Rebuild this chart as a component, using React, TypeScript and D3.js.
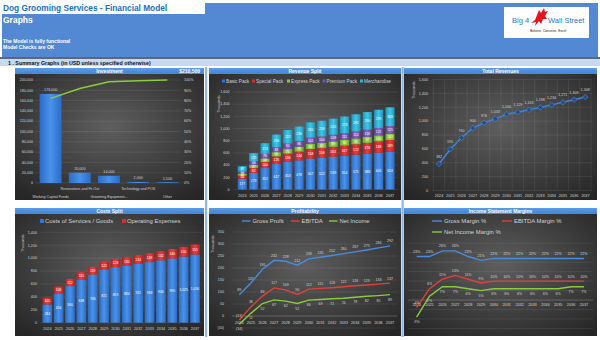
import React from 'react';
import * as d3 from 'd3';

// ---------------- DATA ----------------
const years = ['2024', '2025', '2026', '2027', '2028', '2029', '2030', '2031', '2032', '2033', '2034', '2035', '2036', '2037'];

const investmentCategories = ['Working Capital Funds', 'Renovations and Fit Out', 'Grooming Equipment...', 'Technology and POS', 'Other'];
const investmentValues = [173000, 20000, 14000, 2000, 1500];
const investmentTotalLabel = '$210,500';

const revenueSeries = ['Basic Pack', 'Special Pack', 'Express Pack', 'Premium Pack', 'Merchandise'];
const basicPack = [177, 273, 352, 417, 453, 478, 507, 522, 538, 554, 571, 588, 606, 624];
const specialPack = [50, 82, 100, 126, 136, 144, 158, 158, 163, 167, 172, 178, 183, 189];
const expressPack = [30, 47, 58, 69, 75, 79, 84, 87, 89, 92, 95, 97, 100, 103];
const premiumPack = [38, 58, 76, 83, 90, 96, 102, 104, 108, 111, 114, 118, 121, 125];
const merchandise = [87, 135, 174, 206, 222, 236, 250, 258, 265, 273, 282, 290, 299, 308];

const totalRevenues = [382, 595, 760, 900, 976, 1033, 1100, 1129, 1163, 1198, 1234, 1271, 1309, 1348];

const costSeries = ['Costs of Services / Goods', 'Operating Expenses'];
const costsOfServices = [284, 454, 566, 668, 746, 821, 859, 884, 911, 938, 966, 995, 1025, 1056];
const operatingExpenses = [105, 106, 112, 115, 119, 122, 126, 130, 134, 138, 142, 146, 150, 155];

const profitSeries = ['Gross Profit', 'EBITDA', 'Net Income'];
const grossProfit = [89, 137, 195, 232, 228, 212, 238, 245, 252, 260, 267, 275, 284, 292];
const ebitda = [-17, 38, 83, 117, 109, 90, 112, 115, 118, 122, 126, 129, 133, 137];
const netIncome = [-34, 11, 52, 67, 62, 52, 66, 69, 72, 74, 78, 82, 85, 89];

const marginSeries = ['Gross Margin %', 'EBITDA Margin %', 'Net Income Margin %'];
const grossMargin = [23, 23, 26, 26, 23, 21, 22, 22, 22, 22, 22, 22, 22, 22];
const ebitdaMargin = [-4, 6, 11, 13, 11, 9, 10, 10, 10, 10, 10, 10, 10, 10];
const netIncomeMargin = [-9, 2, 7, 7, 6, 5, 6, 6, 6, 6, 6, 6, 7, 7];

// ---------------- STYLE ----------------
const F = "'Liberation Sans', Arial, Helvetica, sans-serif";
const AX = '#d2d2d2';
const GRID = 'rgba(255,255,255,0.14)';
const BLUE = '#2f76d2';
const RED = '#d92a2c';
const GREEN = '#8cc63f';
const PURPLE = '#7952b3';
const TEAL = '#2cb3d8';
const LINE_BLUE = '#4a8be0';
const LINE_RED = '#e0413a';
const LINE_GREEN = '#8ccb3c';
const revColors = ['blue', 'red', 'green', 'purple', 'teal'];
const revFill = [BLUE, RED, GREEN, PURPLE, TEAL];

const fmtComma = d3.format(',');
const fmtParen = (v: number) => (v < 0 ? `(${fmtComma(-v)})` : fmtComma(v));

function Panel({ x, y, w, h, title, right }: any) {
  return (
    <g>
      <rect x={x} y={y + 5.5} width={w} height={h - 5.5} fill="url(#bgGrad)" />
      <rect x={x} y={y} width={w} height={5.8} fill="url(#titleGrad)" />
      <text x={x + w / 2} y={y + 4.5} textAnchor="middle" fontSize={5} fontWeight="bold" fill="#fff">{title}</text>
      {right && (
        <text x={x + w - 4} y={y + 4.5} textAnchor="end" fontSize={5} fontWeight="bold" fill="#fff">{right}</text>
      )}
    </g>
  );
}

function HGrid({ ticks, y, x0, x1 }: any) {
  return (
    <g>
      {ticks.map((t: number) => (
        <line key={t} x1={x0} x2={x1} y1={y(t)} y2={y(t)} stroke={GRID} strokeWidth={0.5} />
      ))}
    </g>
  );
}

function YLabels({ ticks, y, x, fmt, anchor = 'end', size = 4 }: any) {
  return (
    <g>
      {ticks.map((t: number) => (
        <text key={t} x={x} y={y(t)} dy="0.35em" textAnchor={anchor} fontSize={size} fill={AX}>{fmt(t)}</text>
      ))}
    </g>
  );
}

function YearLabels({ xc, y }: any) {
  return (
    <g>
      {years.map((yr) => (
        <text key={yr} x={xc(yr)} y={y} dy="0.35em" textAnchor="middle" fontSize={3.8} fill={AX}>{yr}</text>
      ))}
    </g>
  );
}

function Thousands({ x, y }: any) {
  return (
    <text transform={`translate(${x},${y}) rotate(-90)`} textAnchor="middle" fontSize={3.5} fill={AX} dy="0.35em">Thousands</text>
  );
}

// ---------- Investment ----------
function Investment() {
  const x = d3.scaleBand<string>().domain(investmentCategories).range([36, 182]).paddingInner(0.25).paddingOuter(0.125);
  const y = d3.scaleLinear().domain([0, 200000]).range([183, 80]);
  const yp = d3.scaleLinear().domain([0, 1]).range([183, 80]);
  const total = d3.sum(investmentValues);
  const cum = d3.cumsum(investmentValues).map((v) => v / total);
  const line = d3.line<number>().x((_, i) => x(investmentCategories[i])! + x.bandwidth() / 2).y((d) => yp(d));
  return (
    <g>
      <Panel x={15} y={68} w={189} h={132} title="Investment" right={investmentTotalLabel} />
      <HGrid ticks={y.ticks(10)} y={y} x0={35} x1={181} />
      <YLabels ticks={y.ticks(10)} y={y} x={33} fmt={fmtComma} size={3.7} />
      <YLabels ticks={yp.ticks(10)} y={yp} x={184} fmt={d3.format('.0%')} anchor="start" size={3.7} />
      {investmentValues.map((v, i) => (
        <g key={i}>
          <rect x={x(investmentCategories[i])} y={y(v)} width={x.bandwidth()} height={y(0) - y(v)} fill="url(#g_blue)" />
          <text x={x(investmentCategories[i])! + x.bandwidth() / 2} y={y(v) - 2.5} textAnchor="middle" fontSize={3.7} fill={AX}>{fmtComma(v)}</text>
        </g>
      ))}
      <path d={line(cum)!} fill="none" stroke={LINE_GREEN} strokeWidth={1.5} />
      {investmentCategories.map((c, i) => (
        <text key={c} x={x(c)! + x.bandwidth() / 2} y={i % 2 === 0 ? 196.5 : 189} dy="0.35em" textAnchor="middle" fontSize={3.6} fill={AX}>{c}</text>
      ))}
    </g>
  );
}

// ---------- Revenue Split ----------
function RevenueSplit() {
  const x = d3.scaleBand<string>().domain(years).range([236.6, 395.7]).paddingInner(0.2).paddingOuter(0.1);
  const y = d3.scaleLinear().domain([0, 1600]).range([189.5, 92]);
  const rows = years.map((yr, i) => ({
    year: yr,
    [revenueSeries[0]]: basicPack[i],
    [revenueSeries[1]]: specialPack[i],
    [revenueSeries[2]]: expressPack[i],
    [revenueSeries[3]]: premiumPack[i],
    [revenueSeries[4]]: merchandise[i],
  }));
  const stacked = d3.stack<any>().keys(revenueSeries)(rows);
  const legendX = [222, 252, 287, 322.5, 360];
  return (
    <g>
      <Panel x={209} y={68} w={192} h={132} title="Revenue Split" />
      {revenueSeries.map((s, i) => (
        <g key={s}>
          <rect x={legendX[i]} y={79.5} width={3} height={3} fill={revFill[i]} />
          <text x={legendX[i] + 4} y={81} dy="0.35em" fontSize={4.7} fill={AX}>{s}</text>
        </g>
      ))}
      <HGrid ticks={y.ticks(8)} y={y} x0={233} x1={398} />
      <YLabels ticks={y.ticks(8)} y={y} x={229.5} fmt={fmtComma} size={3.7} />
      <Thousands x={218.5} y={104} />
      {stacked.map((layer, li) => (
        <g key={layer.key}>
          {layer.map((d: any) => (
            <g key={d.data.year}>
              <rect x={x(d.data.year)} y={y(d[1])} width={x.bandwidth()} height={y(d[0]) - y(d[1])} fill={`url(#g_${revColors[li]})`} />
              <text x={x(d.data.year)! + x.bandwidth() / 2} y={(y(d[0]) + y(d[1])) / 2} dy="0.35em" textAnchor="middle" fontSize={3.4} fill="#fff">{d[1] - d[0]}</text>
            </g>
          ))}
        </g>
      ))}
      <YearLabels xc={(yr: string) => x(yr)! + x.bandwidth() / 2} y={196} />
    </g>
  );
}

// ---------- Total Revenues ----------
function TotalRevenues() {
  const x = d3.scaleBand<string>().domain(years).range([433.4, 591]);
  const xc = (yr: string) => x(yr)! + x.bandwidth() / 2;
  const y = d3.scaleLinear().domain([0, 1600]).range([190.5, 79.5]);
  const line = d3.line<number>().x((_, i) => xc(years[i])).y((d) => y(d));
  const sym = d3.symbol().type(d3.symbolDiamond2).size(20);
  return (
    <g>
      <Panel x={404} y={68} w={193} h={132} title="Total Revenues" />
      <HGrid ticks={y.ticks(8)} y={y} x0={432} x1={592} />
      {years.map((yr) => (
        <line key={yr} x1={x(yr)} x2={x(yr)} y1={y(1600)} y2={y(0)} stroke={GRID} strokeWidth={0.5} />
      ))}
      <line x1={x(years[13])! + x.bandwidth()} x2={x(years[13])! + x.bandwidth()} y1={y(1600)} y2={y(0)} stroke={GRID} strokeWidth={0.5} />
      <YLabels ticks={y.ticks(8)} y={y} x={428} fmt={fmtComma} size={3.7} />
      <Thousands x={414} y={90} />
      <path d={line(totalRevenues)!} fill="none" stroke="#3f82d8" strokeWidth={1.5} />
      {totalRevenues.map((v, i) => (
        <g key={i}>
          <path d={sym()!} transform={`translate(${xc(years[i])},${y(v)})`} fill="#1f4f8f" stroke="#5b95dd" strokeWidth={0.5} />
          <text x={xc(years[i])} y={y(v) - 6} textAnchor="middle" fontSize={3.6} fill={AX}>{fmtComma(v)}</text>
        </g>
      ))}
      <YearLabels xc={xc} y={196} />
    </g>
  );
}

// ---------- Costs Split ----------
function CostsSplit() {
  const x = d3.scaleBand<string>().domain(years).range([41.6, 200.7]).paddingInner(0.15).paddingOuter(0.075);
  const y = d3.scaleLinear().domain([0, 1400]).range([322.7, 232.3]);
  const rows = years.map((yr, i) => ({ year: yr, [costSeries[0]]: costsOfServices[i], [costSeries[1]]: operatingExpenses[i] }));
  const stacked = d3.stack<any>().keys(costSeries)(rows);
  const cols = ['blue', 'red'];
  const legendX = [40, 122];
  return (
    <g>
      <Panel x={15} y={208} w={189} h={128} title="Costs Split" />
      {costSeries.map((s, i) => (
        <g key={s}>
          <rect x={legendX[i]} y={219} width={4} height={4} fill={[BLUE, RED][i]} />
          <text x={legendX[i] + 5} y={221} dy="0.35em" fontSize={5.9} fill={AX}>{s}</text>
        </g>
      ))}
      <HGrid ticks={y.ticks(7)} y={y} x0={40} x1={202} />
      <YLabels ticks={y.ticks(7)} y={y} x={37} fmt={fmtComma} size={3.7} />
      <Thousands x={23} y={243} />
      {stacked.map((layer, li) => (
        <g key={layer.key}>
          {layer.map((d: any) => (
            <g key={d.data.year}>
              <rect x={x(d.data.year)} y={y(d[1])} width={x.bandwidth()} height={y(d[0]) - y(d[1])} fill={`url(#g_${cols[li]})`} />
              <text x={x(d.data.year)! + x.bandwidth() / 2} y={(y(d[0]) + y(d[1])) / 2} dy="0.35em" textAnchor="middle" fontSize={3.4} fill="#fff">{fmtComma(d[1] - d[0])}</text>
            </g>
          ))}
        </g>
      ))}
      <YearLabels xc={(yr: string) => x(yr)! + x.bandwidth() / 2} y={329} />
    </g>
  );
}

// ---------- Profitability ----------
function Profitability() {
  const x = d3.scaleBand<string>().domain(years).range([233.5, 395.8]);
  const xc = (yr: string) => x(yr)! + x.bandwidth() / 2;
  const y = d3.scaleLinear().domain([-50, 350]).range([328, 232]);
  const series = [grossProfit, ebitda, netIncome];
  const colors = [LINE_BLUE, LINE_RED, LINE_GREEN];
  const offs = [-3.5, -3.5, 6];
  const line = d3.line<number>().x((_, i) => xc(years[i])).y((d) => y(d));
  const legend = [242, 291, 329];
  return (
    <g>
      <Panel x={209} y={208} w={192} h={128} title="Profitability" />
      {profitSeries.map((s, i) => (
        <g key={s}>
          <line x1={legend[i]} x2={legend[i] + 8.5} y1={221} y2={221} stroke={colors[i]} strokeWidth={1.4} />
          <text x={legend[i] + 10.5} y={221} dy="0.35em" fontSize={5.9} fill={AX}>{s}</text>
        </g>
      ))}
      <HGrid ticks={y.ticks(8)} y={y} x0={232} x1={397} />
      <line x1={232} x2={397} y1={y(0)} y2={y(0)} stroke="rgba(255,255,255,0.3)" strokeWidth={0.5} />
      <YLabels ticks={y.ticks(8)} y={y} x={224} fmt={fmtParen} size={3.7} />
      <Thousands x={213} y={244} />
      <YearLabels xc={xc} y={322.7} />
      {series.map((s, si) => (
        <g key={si}>
          <path d={line(s)!} fill="none" stroke={colors[si]} strokeWidth={1.4} />
          {s.map((v, i) => (
            <text key={i} x={xc(years[i])} y={y(v) + offs[si]} textAnchor="middle" fontSize={3.6} fill={AX}>{fmtParen(v)}</text>
          ))}
        </g>
      ))}
    </g>
  );
}

// ---------- Margins ----------
function Margins() {
  const x = d3.scaleBand<string>().domain(years).range([410.2, 590.4]);
  const xc = (yr: string) => x(yr)! + x.bandwidth() / 2;
  const y = d3.scaleLinear().domain([-15, 30]).range([328.4, 243.3]);
  const series = [grossMargin, ebitdaMargin, netIncomeMargin];
  const colors = [LINE_BLUE, LINE_RED, LINE_GREEN];
  const offs = [-3.5, -3.5, 6];
  const line = d3.line<number>().x((_, i) => xc(years[i])).y((d) => y(d));
  const legendPos = [[432, 221], [502, 221], [432, 232]];
  return (
    <g>
      <Panel x={404} y={208} w={193} h={128} title="Income Statement Margins" />
      {marginSeries.map((s, i) => (
        <g key={s}>
          <line x1={legendPos[i][0]} x2={legendPos[i][0] + 10} y1={legendPos[i][1]} y2={legendPos[i][1]} stroke={colors[i]} strokeWidth={1.4} />
          <text x={legendPos[i][0] + 12} y={legendPos[i][1]} dy="0.35em" fontSize={5.9} fill={AX}>{s}</text>
        </g>
      ))}
      <HGrid ticks={y.ticks(9)} y={y} x0={408} x1={593} />
      <line x1={408} x2={593} y1={y(0)} y2={y(0)} stroke="rgba(255,255,255,0.3)" strokeWidth={0.5} />
      <YearLabels xc={xc} y={305} />
      {series.map((s, si) => (
        <g key={si}>
          <path d={line(s)!} fill="none" stroke={colors[si]} strokeWidth={1.4} />
          {s.map((v, i) => (
            <text key={i} x={xc(years[i])} y={y(v) + offs[si]} textAnchor="middle" fontSize={3.6} fill={AX}>{`${v}%`}</text>
          ))}
        </g>
      ))}
    </g>
  );
}

function Header() {
  return (
    <g>
      <rect x={0} y={0} width={600} height={340} fill="#fff" />
      <rect x={205} y={3} width={393} height={12} fill="#5289d2" />
      <rect x={2} y={14} width={596} height={43} fill="#5289d2" />
      <text x={3} y={10.8} fontSize={8.3} fontWeight="bold" fill="#1a6fc8">Dog Grooming Services - Financial Model</text>
      <text x={3} y={22.5} fontSize={8.5} fontWeight="bold" fill="#fff">Graphs</text>
      <text x={3} y={43} fontSize={5} fontWeight="bold" fill="#fff">The Model is fully functional</text>
      <text x={3} y={49.3} fontSize={5} fontWeight="bold" fill="#fff">Model Checks are OK</text>
      <rect x={0} y={57} width={600} height={2.2} fill="#5e6773" />
      <rect x={0} y={59.2} width={600} height={6.8} fill="#c6d9f1" />
      <text x={8} y={64.6} fontSize={5.3} fontWeight="bold" fill="#111">1 .  Summary Graphs (in USD unless specified otherwise)</text>
      {/* logo */}
      <rect x={504} y={7} width={85} height={31} fill="#fff" />
      <text x={512} y={23} fontSize={7.5} fill="#2e75c8">Big 4</text>
      <text x={548} y={23} fontSize={7.5} fill="#2e75c8">Wall Street</text>
      <path d="M531,23 L535,20 L537,15 L539,10 L541,13 L544,8 L545,12 L548,11 L545,16 L547,19 L543,19 L541,24 L539,21 L535,26 L536,22 Z" fill="#e8141c" />
      <text x={530} y={31.5} fontSize={3.3} fill="#222">Believe, Conceive, Excel</text>
      {/* column strips */}
      <rect x={205} y={67} width={2.2} height={270} fill="#8fb6e4" />
      <rect x={401.5} y={67} width={2.2} height={270} fill="#8fb6e4" />
    </g>
  );
}

function Grad({ id, c0, c1 }: any) {
  return (
    <linearGradient id={id} x1="0" x2="1" y1="0" y2="0">
      <stop offset="0" stopColor={c0} />
      <stop offset="0.5" stopColor={c1} />
      <stop offset="1" stopColor={c0} />
    </linearGradient>
  );
}

export default function App() {
  return (
    <div style={{ position: 'absolute', left: 0, top: 0, width: 600, height: 340 }}>
      <svg width={600} height={340} style={{ display: 'block', fontFamily: F }}>
        <defs>
          <radialGradient id="bgGrad" cx="0.5" cy="0.42" r="0.72">
            <stop offset="0" stopColor="#5e5e5e" />
            <stop offset="1" stopColor="#262626" />
          </radialGradient>
          <linearGradient id="titleGrad" x1="0" x2="0" y1="0" y2="1">
            <stop offset="0" stopColor="#5c9ce6" />
            <stop offset="1" stopColor="#3f84d6" />
          </linearGradient>
          <Grad id="g_blue" c0="#2a6cc6" c1="#4a92ea" />
          <Grad id="g_red" c0="#b81e22" c1="#e6403e" />
          <Grad id="g_green" c0="#70a92f" c1="#9ad452" />
          <Grad id="g_purple" c0="#5e3f95" c1="#8a66c6" />
          <Grad id="g_teal" c0="#1f95ba" c1="#40c8e8" />
        </defs>
        <Header />
        <Investment />
        <RevenueSplit />
        <TotalRevenues />
        <CostsSplit />
        <Profitability />
        <Margins />
      </svg>
    </div>
  );
}
